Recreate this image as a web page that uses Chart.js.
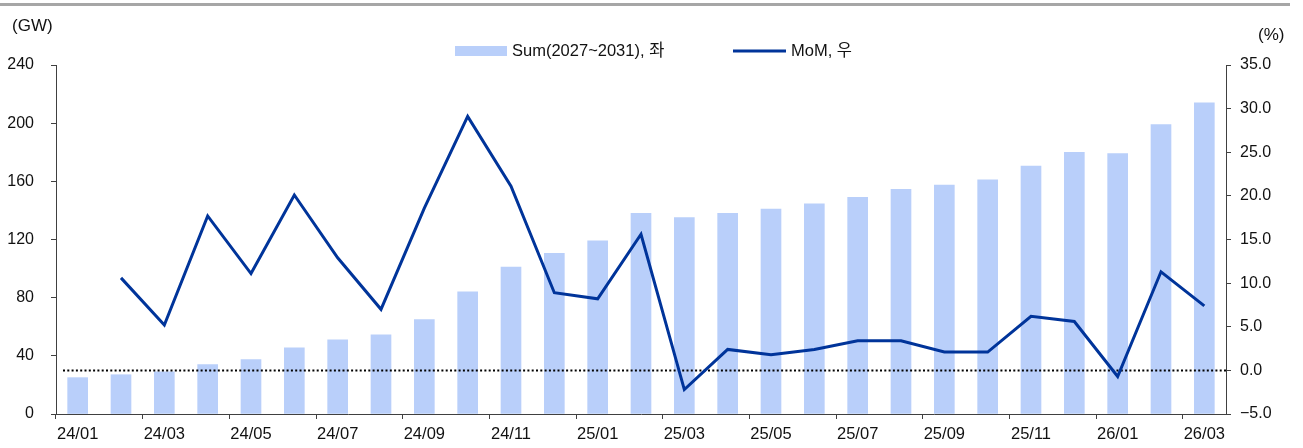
<!DOCTYPE html>
<html>
<head>
<meta charset="utf-8">
<script src="https://cdn.jsdelivr.net/npm/chart.js@4.4.1/dist/chart.umd.min.js"></script>
<style>
  html, body { margin: 0; padding: 0; background: #ffffff; }
  #wrap { position: relative; width: 1303px; height: 448px; overflow: hidden; }
  #topband { position: absolute; left: 0; top: 3px; width: 1290px; height: 3px; background: #a6a6a6; }
  .unit { position: absolute; font-family: 'Liberation Sans', Arial, sans-serif; font-size: 17px; color: #111; line-height: 1; white-space: nowrap; }
  #uLeft { left: 12px; top: 17px; }
  #uRight { left: 1258px; top: 26px; }
  canvas { position: absolute; left: 0; top: 0; }
</style>
</head>
<body>
<div id="wrap">
  <canvas id="c" width="1303" height="448"></canvas>
  <div id="topband"></div>
  <div class="unit" id="uLeft">(GW)</div>
  <div class="unit" id="uRight">(%)</div>
</div>
<script>
// ---- data ----
const categories = ['24/01','24/02','24/03','24/04','24/05','24/06','24/07','24/08','24/09','24/10','24/11','24/12',
  '25/01','25/02','25/03','25/04','25/05','25/06','25/07','25/08','25/09','25/10','25/11','25/12',
  '26/01','26/02','26/03'];
const sumValues = [25, 27, 29, 34, 37.5, 45.5, 51, 54.5, 65, 84, 101, 110.5,
  119, 138, 135, 138, 141, 144.5, 149, 154.5, 157.5, 161, 170.5, 180,
  179, 199, 214];
const momValues = [null, 10.6, 5.2, 17.7, 11.1, 20.1, 12.9, 7.0, 18.6, 29.1, 21.1, 8.9,
  8.2, 15.6, -2.2, 2.4, 1.8, 2.4, 3.4, 3.4, 2.1, 2.1, 6.2, 5.6,
  -0.7, 11.3, 7.4];
const leftTicks = [0, 40, 80, 120, 160, 200, 240];
const rightTicks = [-5, 0, 5, 10, 15, 20, 25, 30, 35];
const seriesLabels = ['Sum(2027~2031), 좌', 'MoM, 우'];

const FONT = "'Liberation Sans', 'Noto Sans CJK KR', Arial, sans-serif";
const BAR_COLOR = '#b9cffa';
const LINE_COLOR = '#00349a';
const AXIS_COLOR = '#404040';

// dotted zero line drawn after the bars, before the MoM line
const zeroLinePlugin = {
  id: 'zeroLine',
  afterDatasetDraw(chart, args) {
    if (args.index !== 0) return;
    const { ctx, chartArea } = chart;
    const y = chart.scales.y1.getPixelForValue(0);
    ctx.save();
    ctx.strokeStyle = '#000000';
    ctx.lineWidth = 2;
    ctx.setLineDash([2, 2.3]);
    ctx.beginPath();
    ctx.moveTo(chartArea.left + 7, y);
    ctx.lineTo(chartArea.right, y);
    ctx.stroke();
    ctx.restore();
  }
};

// custom legend
const legendPlugin = {
  id: 'customLegend',
  afterDraw(chart) {
    const { ctx } = chart;
    ctx.save();
    ctx.font = '16.5px ' + FONT;
    ctx.textBaseline = 'middle';
    const cy = 51;
    ctx.fillStyle = BAR_COLOR;
    ctx.fillRect(455, 46, 52, 10);
    ctx.fillStyle = '#111111';
    ctx.fillText(chart.data.datasets[0].label, 512, cy);
    ctx.strokeStyle = LINE_COLOR;
    ctx.lineWidth = 3;
    ctx.beginPath();
    ctx.moveTo(733, cy);
    ctx.lineTo(786, cy);
    ctx.stroke();
    ctx.fillText(chart.data.datasets[1].label, 791, cy);
    ctx.restore();
  }
};

new Chart(document.getElementById('c'), {
  data: {
    labels: categories,
    datasets: [
      {
        type: 'bar',
        label: seriesLabels[0],
        data: sumValues,
        backgroundColor: BAR_COLOR,
        yAxisID: 'y',
        barThickness: 20,
        order: 2
      },
      {
        type: 'line',
        label: seriesLabels[1],
        data: momValues,
        borderColor: LINE_COLOR,
        borderWidth: 3,
        pointRadius: 0,
        tension: 0,
        yAxisID: 'y1',
        order: 1
      }
    ]
  },
  options: {
    responsive: false,
    animation: false,
    layout: { padding: { top: 65, left: 0, right: 0, bottom: 0 } },
    plugins: { legend: { display: false }, tooltip: { enabled: false } },
    scales: {
      x: {
        offset: true,
        grid: {
          offset: true,
          drawOnChartArea: false,
          drawTicks: true,
          tickLength: 5,
          color: (c) => (c.index % 2 === 0 ? AXIS_COLOR : 'rgba(0,0,0,0)')
        },
        border: { display: true, color: AXIS_COLOR, width: 1 },
        ticks: {
          autoSkip: false,
          maxRotation: 0,
          minRotation: 0,
          padding: 6,
          color: '#111111',
          font: { family: FONT, size: 16.5 },
          callback: function (v, i) { return i % 2 === 0 ? categories[i] : ''; }
        },
        afterFit: (s) => { s.height = 34; }
      },
      y: {
        position: 'left',
        min: 0,
        max: 240,
        afterBuildTicks: (s) => { s.ticks = leftTicks.map(v => ({ value: v })); },
        grid: { drawOnChartArea: false, drawTicks: true, tickLength: 5, color: AXIS_COLOR },
        border: { display: true, color: AXIS_COLOR, width: 1 },
        ticks: { padding: 17, color: '#111111', font: { family: FONT, size: 16 } },
        afterFit: (s) => { s.width = 56; }
      },
      y1: {
        position: 'right',
        min: -5,
        max: 35,
        afterBuildTicks: (s) => { s.ticks = rightTicks.map(v => ({ value: v })); },
        grid: { drawOnChartArea: false, drawTicks: true, tickLength: 5, color: AXIS_COLOR },
        border: { display: true, color: AXIS_COLOR, width: 1 },
        ticks: {
          padding: 9,
          color: '#111111',
          font: { family: FONT, size: 16 },
          callback: (v) => (v < 0 ? '\u2212' + Math.abs(v).toFixed(1) : v.toFixed(1))
        },
        afterFit: (s) => { s.width = 77; }
      }
    }
  },
  plugins: [zeroLinePlugin, legendPlugin]
});
</script>
</body>
</html>
